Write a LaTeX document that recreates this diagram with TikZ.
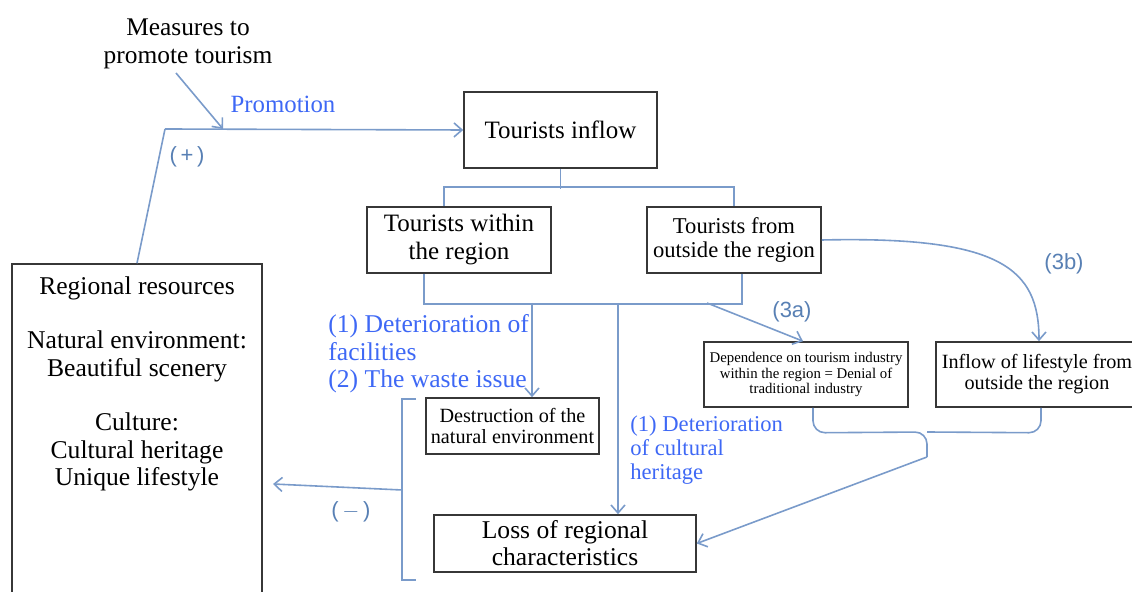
\documentclass[tikz,border=0pt]{standalone}
\usepackage{fontspec}
\setmainfont{Liberation Serif}
\newfontfamily\tagfont{Liberation Sans}
\usepackage{tikz}
\usetikzlibrary{arrows.meta, calc, positioning}
\definecolor{linkblue}{RGB}{122, 155, 202}
\definecolor{textblue}{RGB}{62, 104, 245}
\definecolor{tagblue}{RGB}{88, 128, 180}
\definecolor{boxgray}{RGB}{55, 55, 55}

\tikzset{
  box/.style={draw=boxgray, line width=0.8pt, align=center, inner sep=0pt},
  link/.style={draw=linkblue, line width=0.8pt},
  arr/.style={link, -{Straight Barb[length=4pt,width=7pt]}},
  bluelab/.style={text=textblue, align=left, inner sep=0pt},
  tag/.style={text=tagblue, inner sep=0pt, font=\tagfont\fontsize{11}{12}\selectfont},
}

\begin{document}
\begin{tikzpicture}[x=0.5pt, y=-0.5pt]
	\useasboundingbox (0,0) rectangle (1132,592);

	% boxes
	\node[box, minimum width=96.5pt, minimum height=38pt,
		font=\fontsize{12.5}{14.5}\selectfont] (inflow) at (560.5,130) {Tourists inflow};
	\node[box, minimum width=92pt, minimum height=33pt,
		font=\fontsize{12.5}{14}\selectfont] (within) at (459,240) {Tourists within\\the region};
	\node[box, minimum width=87pt, minimum height=33pt,
		font=\fontsize{11.3}{12}\selectfont] (outside) at (734,240) {Tourists from\\outside the region};
	\node[box, minimum width=102pt, minimum height=32.5pt,
		font=\fontsize{7.4}{7.8}\selectfont] (dep) at (806,374.5)
		{Dependence on tourism industry\\within the region = Denial of\\traditional industry};
	\node[box, minimum width=101pt, minimum height=32.5pt,
		font=\fontsize{10.1}{10.5}\selectfont] (lifestyle) at (1037,374.5)
		{Inflow of lifestyle from\\outside the region};
	\node[box, minimum width=86.5pt, minimum height=28pt,
		font=\fontsize{10.1}{10.5}\selectfont] (destr) at (512.5,426)
		{Destruction of the\\natural environment};
	\node[box, minimum width=131pt, minimum height=28.5pt,
		font=\fontsize{12.8}{13.5}\selectfont] (loss) at (565,543.5)
		{Loss of regional\\characteristics};
	\node[box, minimum width=125pt, minimum height=173pt] (regres) at (137,437) {};
	\node[align=center, inner sep=0pt, font=\fontsize{12.8}{13.75}\selectfont] (regtxt) at (137,384)
		{Regional resources\\[13.5pt]Natural environment:\\Beautiful scenery\\[13.5pt]Culture:\\Cultural heritage\\Unique lifestyle};

	% free texts
	\node[align=center, inner sep=0pt, font=\fontsize{12.7}{14}\selectfont] (measures) at (188,44)
		{Measures to\\promote tourism};
	\node[bluelab, font=\fontsize{12.4}{14}\selectfont] (promo) at (283,104) {Promotion};
	\node[bluelab, anchor=west, font=\fontsize{12.8}{13.75}\selectfont] (lab1) at (328,354)
		{(1) Deterioration of\\facilities\\(2) The waste issue};
	\node[bluelab, anchor=west, font=\fontsize{11.3}{12}\selectfont] (lab2) at (630,450)
		{(1) Deterioration\\of cultural\\heritage};
	\node[tag] (plus) at (187,157) {(\,+\,)};
	\node[tag] (minus) at (351,512) {(\,$-$\,)};
	\node[tag] (t3a) at (792,312) {(3a)};
	\node[tag] (t3b) at (1064,264) {(3b)};

	% promotion
	\coordinate (pc) at (165,129);
	\coordinate (m1) at (176,73);
	\coordinate (m2) at (223,129);
	\draw[arr] (m1) -- (m2);
	\draw[arr] (pc) -- (inflow.west);
	\draw[link] (pc) -- (regres.north);

	% tree of tourists
	\draw[link] (inflow.south) -- ++(0,20);
	\draw[link] ($(within.north west)+(78,0)$) -- ++(0,-19) -| (outside.north);
	\draw[link] ($(within.south west)+(58,0)$) |- ($(outside.south west)+(96,30)$)
		-- ($(outside.south west)+(96,0)$);

	% impacts
	\coordinate (bA) at (532,303);
	\coordinate (bB) at (618,303);
	\coordinate (bC) at (707,303);
	\draw[arr] (bA) -- (bA |- destr.north);
	\draw[arr] (bB) -- (bB |- loss.north);
	\draw[arr] (bC) -- ($(dep.north)+(-3,0)$);
	\draw[arr] (outside.east) .. controls (1000,236) and (1039,268) .. ($(lifestyle.north)+(2,0)$);

	% brace to loss
	\coordinate (tip) at (927,457);
	\draw[link, rounded corners=6] ($(dep.south)+(7,0)$) -- ++(0,25) -- (927,432) -- (tip);
	\draw[link, rounded corners=6] ($(lifestyle.south)+(4,0)$) -- ++(0,25) -- (927,432);
	\draw[arr] (tip) -- (loss.east);

	% feedback (-)
	\coordinate (brk) at (402,490);
	\coordinate (back) at (273,484);
	\draw[link] (416,399) -- (402,399) -- (402,580) -- (416,580);
	\draw[arr] (brk) -- (back);
\end{tikzpicture}
\end{document}
